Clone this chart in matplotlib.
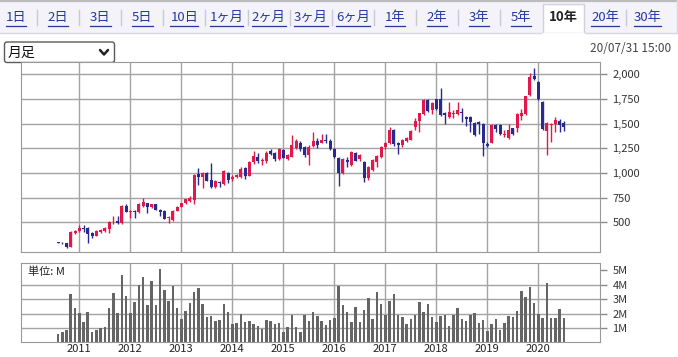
import numpy as np
import matplotlib.pyplot as plt
from matplotlib.patches import Rectangle, FancyBboxPatch

plt.rcParams['font.family'] = ['Noto Sans CJK JP', 'DejaVu Sans']

# monthly candles, Aug 2010 .. Jul 2020
opens = [300, 292, 290, 248, 395, 410, 443, 446, 395, 365,
         400, 415, 435, 500, 510, 490, 668, 605, 618, 600,
         665, 692, 660, 682, 625, 615, 540, 523, 615, 660,
         700, 716, 726, 990, 956, 1003, 929, 861, 912, 888,
         1003, 935, 955, 955, 1047, 969, 1108, 1165, 1125, 1125,
         1226, 1199, 1138, 1233, 1141, 1165, 1250, 1300, 1260, 1179,
         1273, 1327, 1307, 1330, 1327, 1240, 1148, 996, 1130, 1080,
         1206, 1138, 1115, 945, 1030, 1114, 1165, 1266, 1300, 1435,
         1300, 1283, 1324, 1334, 1469, 1530, 1594, 1739, 1636, 1745,
         1746, 1604, 1570, 1600, 1598, 1620, 1564, 1564, 1510, 1517,
         1497, 1294, 1307, 1486, 1486, 1385, 1351, 1453, 1453, 1580,
         1598, 1790, 1983, 1922, 1723, 1429, 1485, 1496, 1523, 1503]
highs = [305, 296, 295, 412, 425, 470, 470, 452, 400, 420,
         430, 455, 510, 565, 560, 680, 690, 620, 625, 700,
         750, 700, 690, 690, 632, 620, 560, 620, 665, 700,
         740, 770, 990, 1047, 1010, 1010, 1098, 925, 920, 1030,
         1010, 975, 990, 1060, 1060, 1120, 1225, 1200, 1150, 1225,
         1240, 1210, 1250, 1245, 1190, 1385, 1340, 1320, 1270, 1280,
         1420, 1350, 1395, 1395, 1345, 1250, 1160, 1150, 1160, 1220,
         1216, 1190, 1120, 1070, 1140, 1180, 1270, 1310, 1470, 1450,
         1310, 1340, 1360, 1440, 1560, 1610, 1745, 1745, 1720, 1755,
         1860, 1615, 1720, 1640, 1720, 1655, 1580, 1575, 1520, 1525,
         1505, 1310, 1500, 1500, 1495, 1440, 1500, 1460, 1610, 1650,
         1785, 2015, 2065, 1930, 1730, 1520, 1510, 1570, 1545, 1530]
lows = [288, 284, 240, 245, 385, 400, 405, 287, 345, 358,
        395, 405, 390, 480, 480, 485, 600, 540, 540, 595,
        660, 598, 650, 620, 560, 530, 490, 518, 610, 655,
        690, 705, 690, 878, 844, 915, 850, 850, 855, 880,
        900, 920, 945, 950, 940, 965, 1095, 1100, 1080, 1100,
        1180, 1120, 1130, 1150, 1130, 1160, 1240, 1220, 1160, 1081,
        1265, 1250, 1300, 1300, 1230, 1150, 870, 990, 1060, 1070,
        1120, 1120, 908, 930, 1020, 1060, 1150, 1240, 1290, 1275,
        1192, 1260, 1315, 1330, 1440, 1420, 1590, 1620, 1600, 1640,
        1580, 1496, 1560, 1560, 1590, 1520, 1480, 1415, 1375, 1400,
        1170, 1265, 1300, 1420, 1380, 1360, 1340, 1385, 1420, 1540,
        1590, 1785, 1940, 1740, 1440, 1180, 1310, 1420, 1420, 1430]
closes = [293, 288, 250, 405, 415, 445, 430, 382, 362, 408,
          420, 445, 503, 508, 497, 668, 608, 615, 605, 690,
          705, 660, 682, 625, 600, 534, 550, 615, 660, 692,
          736, 750, 979, 956, 1003, 922, 861, 918, 902, 1020,
          929, 955, 980, 1037, 969, 1115, 1172, 1125, 1135, 1206,
          1189, 1138, 1240, 1155, 1182, 1284, 1327, 1240, 1182, 1267,
          1327, 1287, 1334, 1320, 1240, 1160, 996, 1138, 1115, 1210,
          1125, 1182, 945, 1064, 1131, 1172, 1266, 1300, 1435, 1290,
          1283, 1334, 1350, 1428, 1530, 1604, 1739, 1631, 1712, 1650,
          1588, 1587, 1621, 1610, 1638, 1610, 1544, 1517, 1382, 1497,
          1307, 1273, 1486, 1446, 1395, 1395, 1436, 1395, 1598, 1605,
          1780, 1976, 1949, 1746, 1442, 1503, 1500, 1537, 1486, 1470]
# volume in millions
volumes = [0.58, 0.72, 0.84, 3.37, 2.42, 2.05, 1.42, 2.12, 0.72, 0.86,
           0.98, 1.07, 2.42, 3.44, 2.05, 4.70, 3.23, 2.05, 2.81, 4.00,
           4.56, 2.60, 4.30, 2.60, 5.12, 3.67, 2.91, 3.95, 2.42, 1.65,
           2.19, 2.77, 3.51, 3.79, 2.67, 1.79, 1.84, 1.49, 1.56, 2.67,
           2.12, 1.28, 1.35, 1.95, 1.42, 1.49, 1.28, 1.14, 0.95, 1.56,
           1.49, 1.28, 1.35, 0.72, 1.07, 1.91, 1.07, 0.72, 1.91, 1.49,
           2.12, 1.84, 1.49, 1.21, 1.56, 1.70, 3.95, 2.60, 2.12, 1.42,
           2.47, 1.42, 2.26, 3.09, 1.63, 3.51, 2.67, 1.91, 2.88, 3.37,
           1.91, 1.77, 1.28, 1.63, 1.91, 2.81, 2.12, 2.67, 1.77, 1.42,
           1.84, 1.91, 1.14, 1.91, 2.40, 1.63, 1.49, 1.91, 2.05, 1.35,
           1.56, 0.79, 1.28, 1.63, 0.86, 1.35, 1.84, 1.77, 2.19, 3.58,
           3.16, 3.86, 2.74, 1.98, 1.70, 4.14, 1.70, 1.70, 2.33, 1.70]

years = ['2011', '2012', '2013', '2014', '2015', '2016', '2017', '2018', '2019', '2020']
year_start = 5          # index of Jan 2011 in the month list
price_ticks = [500, 750, 1000, 1250, 1500, 1750, 2000]
vol_ticks = [1, 2, 3, 4, 5]
tabs = ['1日', '2日', '3日', '5日', '10日', '1ヶ月', '2ヶ月', '3ヶ月', '6ヶ月',
        '1年', '2年', '3年', '5年', '10年', '20年', '30年']
selected = '10年'
stamp = '20/07/31 15:00'
period = '月足'

UP = '#e2174b'
DOWN = '#2a2a8e'
GRID = '#a3a3a3'
LINK = '#2339a0'

o = np.array(opens); h = np.array(highs); l = np.array(lows); c = np.array(closes)
x = np.arange(len(o))
jan = np.arange(year_start, len(o), 12)

W, H = 678, 357
fig = plt.figure(figsize=(W / 100, H / 100), dpi=100)

# page decoration in pixel coordinates
bg = fig.add_axes([0, 0, 1, 1])
bg.set_xlim(0, W)
bg.set_ylim(H, 0)
bg.axis('off')
bg.add_patch(Rectangle((0, 0), W, 33, fc='#f3f3f9', ec='none'))
bg.plot([0, W], [0.8, 0.8], color='#bcbcbc', lw=1.6)
bg.plot([0, W], [33, 33], color='#d6d7e2', lw=1)
bg.plot([676.5, 676.5], [0, 33], color='#d6d7e2', lw=1)

step = 42.1
tab_x = [16 + step * k for k in range(len(tabs))]
texts = []
for k, (tx, name) in enumerate(zip(tab_x, tabs)):
    if name == selected:
        bg.add_patch(Rectangle((tx - 20.5, 4), 41, 30, fc='white', ec='#d0d1de', lw=1))
        bg.plot([tx - 20, tx + 20], [33.5, 33.5], color='white', lw=2)
        bg.text(tx, 17.5, name, ha='center', va='center', fontsize=9.5,
                fontweight='bold', color='#222222')
    else:
        texts.append(bg.text(tx, 17.5, name, ha='center', va='center',
                             fontsize=9.5, color=LINK))
    if k > 0 and name != selected and tabs[k - 1] != selected:
        sx = tx - step / 2
        bg.plot([sx, sx], [10, 25], color='#c9c9d3', lw=1)

bg.add_patch(FancyBboxPatch((4.5, 42), 110, 20.5,
                            boxstyle='round,pad=0,rounding_size=2.5',
                            fc='white', ec='#5a5a5a', lw=1))
bg.text(8, 52.5, period, ha='left', va='center', fontsize=10, color='#111111')
bg.plot([100, 104, 108], [50, 54.5, 50], color='#222222', lw=1.8,
        solid_capstyle='round', solid_joinstyle='round')
bg.text(671, 49, stamp, ha='right', va='center', fontsize=8.5, color='#444444')

# candlestick panel
ax = fig.add_axes([21 / W, 1 - 252 / H, 579 / W, 190 / H])
ax.set_xlim(-8.72, 127.5)
ax.set_ylim(199, 2125)
ax.set_axisbelow(True)
ax.set_xticks(jan)
ax.tick_params(axis='x', length=0, labelbottom=False)
ax.yaxis.tick_right()
ax.set_yticks(price_ticks)
ax.set_yticklabels(['{:,}'.format(v) for v in price_ticks])
ax.tick_params(axis='y', length=5, width=1, color='#8a8a8a', labelsize=8,
               pad=4, labelcolor='#333333')
ax.grid(color=GRID, lw=1)
for s in ax.spines.values():
    s.set_color('#999999')

cols = np.where(c >= o, UP, DOWN)
ax.vlines(x, l, h, colors=cols, lw=1, zorder=2)
ax.bar(x, np.maximum(np.abs(c - o), 7), bottom=np.minimum(o, c), width=0.72,
       color=cols, lw=0, zorder=3)

# volume panel
axv = fig.add_axes([21 / W, 1 - 342.3 / H, 579 / W, 79 / H])
axv.set_xlim(-8.72, 127.5)
axv.set_ylim(0, 5.5)
axv.set_axisbelow(True)
axv.set_xticks(jan)
axv.set_xticklabels(years)
axv.tick_params(axis='x', length=0, pad=1.5, labelsize=8, labelcolor='#222222')
axv.yaxis.tick_right()
axv.set_yticks(vol_ticks)
axv.set_yticklabels(['{}M'.format(v) for v in vol_ticks])
axv.tick_params(axis='y', length=5, width=1, color='#8a8a8a', labelsize=8,
                pad=4, labelcolor='#333333')
axv.grid(axis='x', color=GRID, lw=1)
for v in vol_ticks[:-1]:
    axv.axhline(v, color=GRID, lw=1, zorder=0)
for s in axv.spines.values():
    s.set_color('#999999')
axv.bar(x, volumes, width=0.62, color='#656565', lw=0, zorder=2)
axv.text(0.012, 0.9, '単位: M', transform=axv.transAxes, ha='left', va='center',
         fontsize=8, color='#222222')

# underline the tab links
fig.canvas.draw()
r = fig.canvas.get_renderer()
for t in texts:
    bb = t.get_window_extent(r)
    bg.plot([bb.x0, bb.x1], [25.5, 25.5], color=LINK, lw=0.9)

fig.savefig('out.png', dpi=100)
